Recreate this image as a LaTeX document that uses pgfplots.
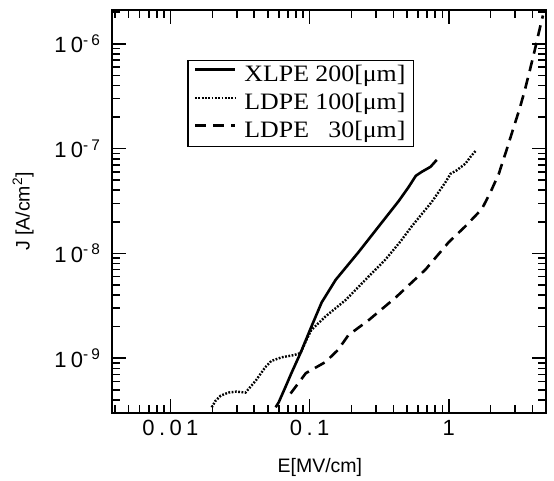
\documentclass[border=0pt]{standalone}
\usepackage{pgfplots}
\pgfplotsset{compat=1.18}
\usepackage{fontspec}
\setmainfont{Liberation Sans}
\newfontfamily\tickfont[LetterSpace=20]{Liberation Sans}
\newfontfamily\legfont[FakeStretch=1.1]{Liberation Serif}

\pgfplotstableread{
x y
0.057 3.4e-10
0.060 3.8e-10
0.067 5.3e-10
0.074 7.2e-10
0.086 1.12e-9
0.103 2.0e-9
0.122 3.4e-9
0.154 5.6e-9
0.225 1.03e-8
0.313 1.8e-8
0.437 3.16e-8
0.515 4.3e-8
0.58 5.5e-8
0.64 6.0e-8
0.74 6.7e-8
0.82 7.8e-8
}\xlpe

\pgfplotstableread{
x y
0.0198 3.4e-10
0.0210 3.9e-10
0.0230 4.4e-10
0.0261 4.7e-10
0.0298 4.8e-10
0.0346 4.7e-10
0.041 6.1e-10
0.048 8.2e-10
0.053 9.4e-10
0.063 1.02e-9
0.077 1.07e-9
0.086 1.12e-9
0.095 1.5e-9
0.103 1.86e-9
0.130 2.5e-9
0.182 3.6e-9
0.265 6.0e-9
0.35 8.7e-9
0.45 1.3e-8
0.54 1.8e-8
0.755 3.1e-8
0.95 4.8e-8
1.03 5.75e-8
1.14 6.2e-8
1.32 7.2e-8
1.44 8.4e-8
1.56 9.5e-8
}\ldpeA

\pgfplotstableread{
x y
0.073 4.6e-10
0.094 7.2e-10
0.130 9.2e-10
0.16 1.2e-9
0.19 1.66e-9
0.265 2.3e-9
0.416 3.8e-9
0.68 7.0e-9
1.0 1.28e-8
1.32 1.82e-8
1.73 2.65e-8
2.0 3.86e-8
2.29 5.75e-8
2.61 9.8e-8
2.94 1.62e-7
3.24 2.43e-7
3.52 3.6e-7
3.83 5.6e-7
4.16 8.8e-7
4.44 1.28e-6
4.75 1.86e-6
}\ldpeB

\begin{document}
\begin{tikzpicture}
\useasboundingbox (-112pt,-68pt) rectangle (442pt,413pt);
\begin{axis}[
  at={(0pt,0pt)}, anchor=south west,
  scale only axis, width=434pt, height=403pt,
  xmode=log, ymode=log,
  xmin=0.0038, xmax=5, ymin=3e-10, ymax=2.1e-6,
  axis line style={line width=2.2pt},
  tick style={line width=1.6pt, black},
  major tick length=14pt, minor tick length=8pt,
  tick align=inside,
  xtick={0.01,0.1,1}, xticklabels={0.01,0.1,1},
  minor xtick={0.004,0.005,0.006,0.007,0.008,0.009,0.02,0.03,0.04,0.05,0.06,0.07,0.08,0.09,0.2,0.3,0.4,0.5,0.6,0.7,0.8,0.9,2,3,4,5},
  ytick={1e-9,1e-8,1e-7,1e-6},
  yticklabels={10\textsuperscript{-9},10\textsuperscript{-8},10\textsuperscript{-7},10\textsuperscript{-6}},
  minor ytick={3e-10,4e-10,5e-10,6e-10,7e-10,8e-10,9e-10,2e-9,3e-9,4e-9,5e-9,6e-9,7e-9,8e-9,9e-9,2e-8,3e-8,4e-8,5e-8,6e-8,7e-8,8e-8,9e-8,2e-7,3e-7,4e-7,5e-7,6e-7,7e-7,8e-7,9e-7,2e-6},
  ticklabel style={font=\tickfont\fontsize{22}{26}\selectfont},
  xticklabel style={yshift=-4pt},
  yticklabel style={xshift=-8pt},
  xlabel={E[MV/cm]}, ylabel={J [A/cm\textsuperscript{2}]},
  label style={font=\fontsize{19.5}{23}\selectfont},
  x label style={at={(axis description cs:0.479,-0.136)}, anchor=center},
  y label style={at={(axis description cs:-0.205,0.5)}, anchor=center},
  legend style={at={(0.173,0.876)}, anchor=north west, draw=black, line width=1.5pt,
    font=\legfont\fontsize{23.5}{28}\selectfont, inner xsep=6pt, inner ysep=4pt,
    row sep=6pt, column sep=6pt,
    nodes={inner ysep=0pt, text height=17pt, text depth=5pt}},
  legend cell align=left,
  legend image code/.code={\draw[#1] (0pt,6pt) -- (40pt,6pt);},
]
\addplot[black, line width=2.6pt, line join=round] table[x=x,y=y] {\xlpe};
\addlegendentry{XLPE 200[μm]}
\addplot[black, line width=2.4pt, dash pattern=on 1.8pt off 1.5pt] table[x=x,y=y] {\ldpeA};
\addlegendentry{LDPE 100[μm]}
\addplot[black, line width=2.6pt, dash pattern=on 11pt off 7pt] table[x=x,y=y] {\ldpeB};
\addlegendentry{LDPE \phantom{1}30[μm]}
\end{axis}
\end{tikzpicture}
\end{document}
